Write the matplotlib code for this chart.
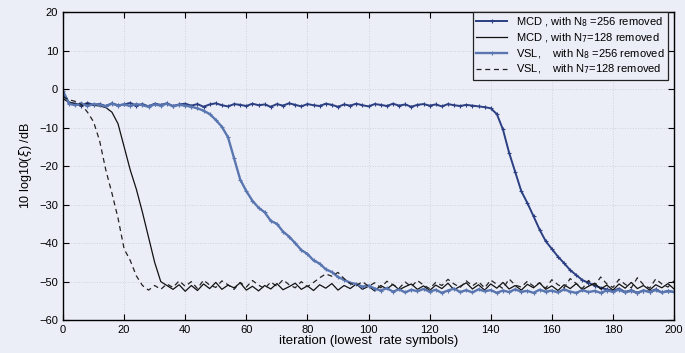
import numpy as np
import matplotlib
matplotlib.use('Agg')
import matplotlib.pyplot as plt

# iterations sampled every 2 steps
iters = np.arange(0, 201, 2)

mcd_n8 = [-1.5, -3.5, -3.8, -4.3, -3.6, -4.1, -3.9, -4.4, -3.7, -4.2,
          -4.0, -3.6, -4.3, -3.9, -4.5, -3.8, -4.1, -3.7, -4.4, -4.0,
          -3.8, -4.3, -3.9, -4.6, -4.0, -3.7, -4.2, -4.5, -3.9, -4.1,
          -4.4, -3.8, -4.2, -4.0, -4.6, -3.9, -4.3, -3.7, -4.1, -4.5,
          -3.9, -4.2, -4.4, -3.8, -4.1, -4.6, -4.0, -4.3, -3.8, -4.2,
          -4.5, -3.9, -4.1, -4.4, -3.8, -4.3, -4.0, -4.6, -4.1, -3.9,
          -4.3, -4.0, -4.5, -3.9, -4.2, -4.4, -4.1, -4.3, -4.5, -4.7,
          -5.0, -6.5, -10.5, -16.5, -21.5, -26.5, -29.6, -33.0, -36.5, -39.5,
          -41.5, -43.5, -45.2, -47.0, -48.3, -49.6, -50.3, -51.0, -51.6, -52.0,
          -52.4, -51.8, -52.7, -52.2, -52.9, -52.3, -52.6, -52.0, -52.8, -52.4,
          -52.7]

mcd_n7 = [-2.5, -3.5, -3.8, -4.0, -3.9, -4.2, -4.4, -4.8, -6.0, -9.0,
          -15.0, -21.0, -26.0, -32.0, -38.5, -45.0, -50.0, -51.0, -52.0, -50.8,
          -52.5, -51.0, -52.3, -50.6, -51.8, -50.2, -52.0, -50.9, -51.6, -50.3,
          -52.2, -51.2, -52.4, -51.0, -51.9, -50.5, -52.1, -51.3, -50.4, -52.0,
          -51.1, -52.3, -50.8, -51.7, -50.5, -52.2, -51.0, -51.8, -50.6, -52.0,
          -51.2, -52.4, -51.0, -51.9, -50.7, -52.1, -51.3, -50.6, -52.0, -51.1,
          -52.3, -50.9, -51.8, -50.4, -52.1, -51.2, -50.3, -51.9, -50.8, -52.2,
          -50.6, -51.7, -50.2, -51.9, -51.0, -52.2, -50.7, -51.6, -50.3, -52.0,
          -51.1, -52.3, -50.8, -51.8, -50.5, -52.1, -51.2, -50.4, -51.9, -50.9,
          -52.2, -50.6, -51.7, -50.2, -51.8, -51.0, -52.2, -50.8, -51.6, -50.5,
          -51.9]

vsl_n8 = [-0.5, -3.8, -4.2, -3.7, -4.4, -3.9, -4.1, -4.5, -3.8, -4.3,
          -4.0, -4.4, -3.9, -4.2, -4.6, -4.0, -4.3, -3.8, -4.5, -4.1,
          -4.3, -4.6, -5.0, -5.6, -6.5, -8.0, -9.8, -12.5, -18.0, -23.5,
          -26.5, -29.0, -30.8, -32.0, -34.2, -35.0, -37.0, -38.3, -40.0, -41.8,
          -42.8, -44.5, -45.3, -46.8, -47.5, -48.8, -49.5, -50.3, -50.6, -51.3,
          -51.0, -51.8, -52.3, -51.7, -52.6, -52.0, -52.8, -52.1, -52.5, -51.9,
          -52.6, -52.1, -52.9, -52.3, -51.8, -52.7, -52.2, -52.8, -52.0, -52.5,
          -52.2, -52.9, -52.3, -52.7, -52.0, -52.6, -52.4, -52.9, -52.1, -52.6,
          -52.3, -52.8, -52.0, -52.6, -52.9, -52.2, -52.7, -52.4, -52.9, -52.3,
          -52.6, -52.1, -52.8, -52.4, -52.9, -52.3, -52.7, -52.2, -52.8, -52.5,
          -52.6]

vsl_n7 = [-2.0, -2.8, -3.2, -4.0, -6.0, -8.5, -13.5, -21.0, -27.0, -33.5,
          -41.5, -44.5, -48.5, -51.0, -52.2, -51.0, -52.0, -50.6, -51.5, -49.8,
          -51.2, -50.0, -51.8, -49.6, -50.9, -51.5, -49.8, -50.8, -52.0, -50.2,
          -51.4, -49.7, -50.9, -51.8, -50.1, -51.2, -49.5, -50.8, -51.6, -50.0,
          -51.3, -50.2, -49.0, -48.0, -48.6, -47.6, -49.2, -50.5, -51.0, -50.0,
          -51.2, -50.3, -51.6, -49.9, -50.8, -51.7, -50.1, -51.3, -49.7, -50.9,
          -51.8, -50.2, -51.0, -49.4, -50.6, -51.5, -49.8, -51.1, -50.0, -51.6,
          -49.6, -50.7, -51.8, -49.3, -50.9, -51.4, -49.9, -51.2, -50.3, -51.7,
          -49.5, -50.8, -51.6, -49.2, -50.5, -51.8, -49.7, -51.0, -48.8, -50.6,
          -51.5, -49.4, -50.7, -51.6, -49.0, -50.8, -51.7, -49.3, -50.6, -51.4,
          -49.8]

labels = ['MCD , with N$_8$ =256 removed',
          'MCD , with N$_7$=128 removed',
          'VSL,    with N$_8$ =256 removed',
          'VSL,    with N$_7$=128 removed']

plt.rcParams['font.family'] = ['Liberation Sans', 'DejaVu Sans']
bg = '#eceef7'

fig = plt.figure(figsize=(6.85, 3.53), dpi=100, facecolor=bg)
ax = fig.add_axes([0.092, 0.093, 0.892, 0.873], facecolor=bg)

ax.plot(iters, mcd_n8, color='#2b3f82', lw=1.4, marker='+', ms=3, mew=0.8,
        label=labels[0])
ax.plot(iters, mcd_n7, color='#111111', lw=0.9, label=labels[1])
ax.plot(iters, vsl_n8, color='#5a76b0', lw=1.7, marker='+', ms=3, mew=0.8,
        label=labels[2])
ax.plot(iters, vsl_n7, color='#222222', lw=0.9, ls=(0, (4, 3)), label=labels[3])

ax.set_xlim(0, 200)
ax.set_ylim(-60, 20)
ax.set_xticks(np.arange(0, 201, 20))
ax.set_yticks(np.arange(-60, 21, 10))
ax.set_yticklabels([str(v).replace('-', '\u2212') for v in range(-60, 21, 10)])
ax.tick_params(direction='in', top=True, right=True, labelsize=8, length=4)
ax.grid(True, ls=':', color='#cfd1de', lw=0.7)
for s in ax.spines.values():
    s.set_linewidth(1.0)

ax.set_xlabel('iteration (lowest  rate symbols)', fontsize=9.5, labelpad=0)
ax.set_ylabel('10 log10($\\xi$) /dB', fontsize=9, labelpad=4)

leg = ax.legend(loc='upper right', fontsize=8, fancybox=False,
                framealpha=1, facecolor=bg, edgecolor='#222222',
                handlelength=2.8, borderpad=0.3, labelspacing=0.2,
                borderaxespad=0, bbox_to_anchor=(0.99, 1.0))
leg.get_frame().set_linewidth(0.9)

fig.savefig('out.png', dpi=100, facecolor=bg)
